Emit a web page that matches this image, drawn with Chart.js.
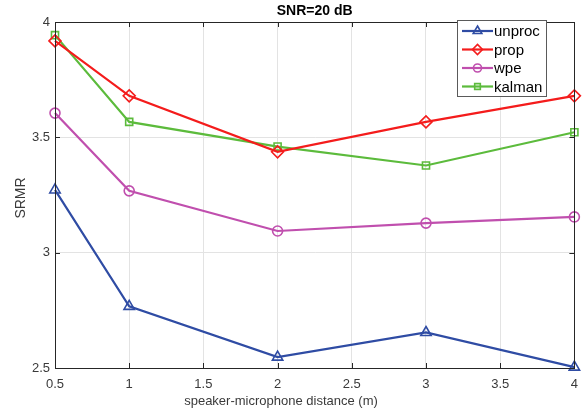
<!DOCTYPE html>
<html>
<head>
<meta charset="utf-8">
<script src="https://cdn.jsdelivr.net/npm/chart.js@4/dist/chart.umd.min.js"></script>
<style>
  html, body { margin: 0; padding: 0; background: #fff; }
</style>
</head>
<body>
<canvas id="srmr" width="587" height="413"></canvas>
<script>
// speaker-microphone distance (m)
const distances = [0.5, 1, 2, 3, 4];
const unproc = [3.272, 2.767, 2.547, 2.654, 2.504];
const prop = [3.918, 3.680, 3.437, 3.567, 3.680];
const wpe = [3.605, 3.268, 3.094, 3.128, 3.155];
const kalman = [3.943, 3.567, 3.460, 3.378, 3.522];
const xTicks = [0.5, 1, 1.5, 2, 2.5, 3, 3.5, 4];
const yTicks = [2.5, 3, 3.5, 4];

const FONT = '"Liberation Sans", Arial, Helvetica, sans-serif';
const AXIS = '#262626';
const LABEL = '#3a3a3a';

function pts(vals) {
    return distances.map((d, i) => ({ x: d, y: vals[i] }));
}

function series(label, vals, color, style, r) {
    return {
        label: label,
        data: pts(vals),
        borderColor: color,
        backgroundColor: color,
        borderWidth: 2.2,
        pointStyle: style,
        pointRadius: r,
        pointBorderWidth: 1.6,
        pointBackgroundColor: 'rgba(0,0,0,0)',
        pointBorderColor: color,
        tension: 0,
        clip: 8
    };
}

// box around plot, inward ticks, titles, legend (MATLAB look)
const matlabLook = {
    id: 'matlabLook',
    afterDatasetsDraw(chart) {
        const ctx = chart.ctx;
        const a = chart.chartArea;
        const xs = chart.scales.x, ys = chart.scales.y;
        ctx.save();
        ctx.strokeStyle = AXIS;
        ctx.lineWidth = 1;
        ctx.strokeRect(Math.round(a.left) + 0.5, Math.round(a.top) + 0.5, Math.round(a.right - a.left), Math.round(a.bottom - a.top));
        ctx.beginPath();
        xTicks.forEach(t => {
            const px = Math.round(xs.getPixelForValue(t)) + 0.5;
            ctx.moveTo(px, a.bottom); ctx.lineTo(px, a.bottom - 5);
            ctx.moveTo(px, a.top); ctx.lineTo(px, a.top + 5);
        });
        yTicks.forEach(t => {
            const py = Math.round(ys.getPixelForValue(t)) + 0.5;
            ctx.moveTo(a.left, py); ctx.lineTo(a.left + 5, py);
            ctx.moveTo(a.right, py); ctx.lineTo(a.right - 5, py);
        });
        ctx.stroke();

        // title
        ctx.fillStyle = '#000';
        ctx.font = 'bold 14px ' + FONT;
        ctx.textAlign = 'center';
        ctx.textBaseline = 'middle';
        ctx.fillText('SNR=20 dB', (a.left + a.right) / 2, 11);

        // axis titles
        ctx.fillStyle = LABEL;
        ctx.font = '13px ' + FONT;
        ctx.fillText('speaker-microphone distance (m)', 281, 401);
        ctx.save();
        ctx.translate(21, 198);
        ctx.rotate(-Math.PI / 2);
        ctx.font = '14px ' + FONT;
        ctx.fillText('SRMR', 0, 0);
        ctx.restore();

        // legend
        const lx = 457, ly = 20, lw = 89, lh = 76;
        ctx.fillStyle = '#fff';
        ctx.fillRect(lx, ly, lw, lh);
        ctx.strokeStyle = '#5a5a5a';
        ctx.lineWidth = 1;
        ctx.strokeRect(lx + 0.5, ly + 0.5, lw, lh);
        ctx.font = '15px ' + FONT;
        ctx.textAlign = 'left';
        chart.data.datasets.forEach((ds, i) => {
            const y = ly + 11 + i * 18.5;
            ctx.strokeStyle = ds.borderColor;
            ctx.lineWidth = 2.2;
            ctx.beginPath();
            ctx.moveTo(lx + 5, y); ctx.lineTo(lx + 36, y);
            ctx.stroke();
            ctx.lineWidth = 1.6;
            ctx.fillStyle = 'rgba(0,0,0,0)';
            Chart.helpers.drawPoint(ctx, {
                pointStyle: ds.pointStyle, radius: ds.pointRadius - 1, rotation: 0, borderWidth: 1.6
            }, lx + 20.5, y);
            ctx.fillStyle = '#000';
            ctx.fillText(ds.label, lx + 37, y + 1);
        });
        ctx.restore();
    }
};

new Chart(document.getElementById('srmr').getContext('2d'), {
    type: 'line',
    data: {
        datasets: [
            series('unproc', unproc, '#2f4ca4', 'triangle', 6),
            series('prop', prop, '#f41c1c', 'rectRot', 6),
            series('wpe', wpe, '#c04fae', 'circle', 5),
            series('kalman', kalman, '#5cbb3c', 'rect', 5)
        ]
    },
    options: {
        responsive: false,
        animation: false,
        devicePixelRatio: 1,
        layout: { padding: { left: 0, right: 10, top: 22, bottom: 0 } },
        plugins: { legend: { display: false }, title: { display: false }, tooltip: { enabled: false } },
        scales: {
            x: {
                type: 'linear',
                min: 0.5, max: 4,
                afterBuildTicks: s => { s.ticks = xTicks.map(v => ({ value: v })); },
                afterFit: s => { s.height = 45; },
                grid: { color: '#e3e3e3', drawTicks: false },
                border: { color: AXIS },
                ticks: { color: LABEL, font: { family: FONT, size: 13 }, padding: 9, maxRotation: 0, callback: v => String(v) }
            },
            y: {
                min: 2.5, max: 4,
                afterBuildTicks: s => { s.ticks = yTicks.map(v => ({ value: v })); },
                afterFit: s => { s.width = 55; },
                grid: { color: '#e3e3e3', drawTicks: false },
                border: { color: AXIS },
                ticks: { color: LABEL, font: { family: FONT, size: 13 }, padding: 5, callback: v => String(v) }
            }
        }
    },
    plugins: [matlabLook]
});
</script>
</body>
</html>
